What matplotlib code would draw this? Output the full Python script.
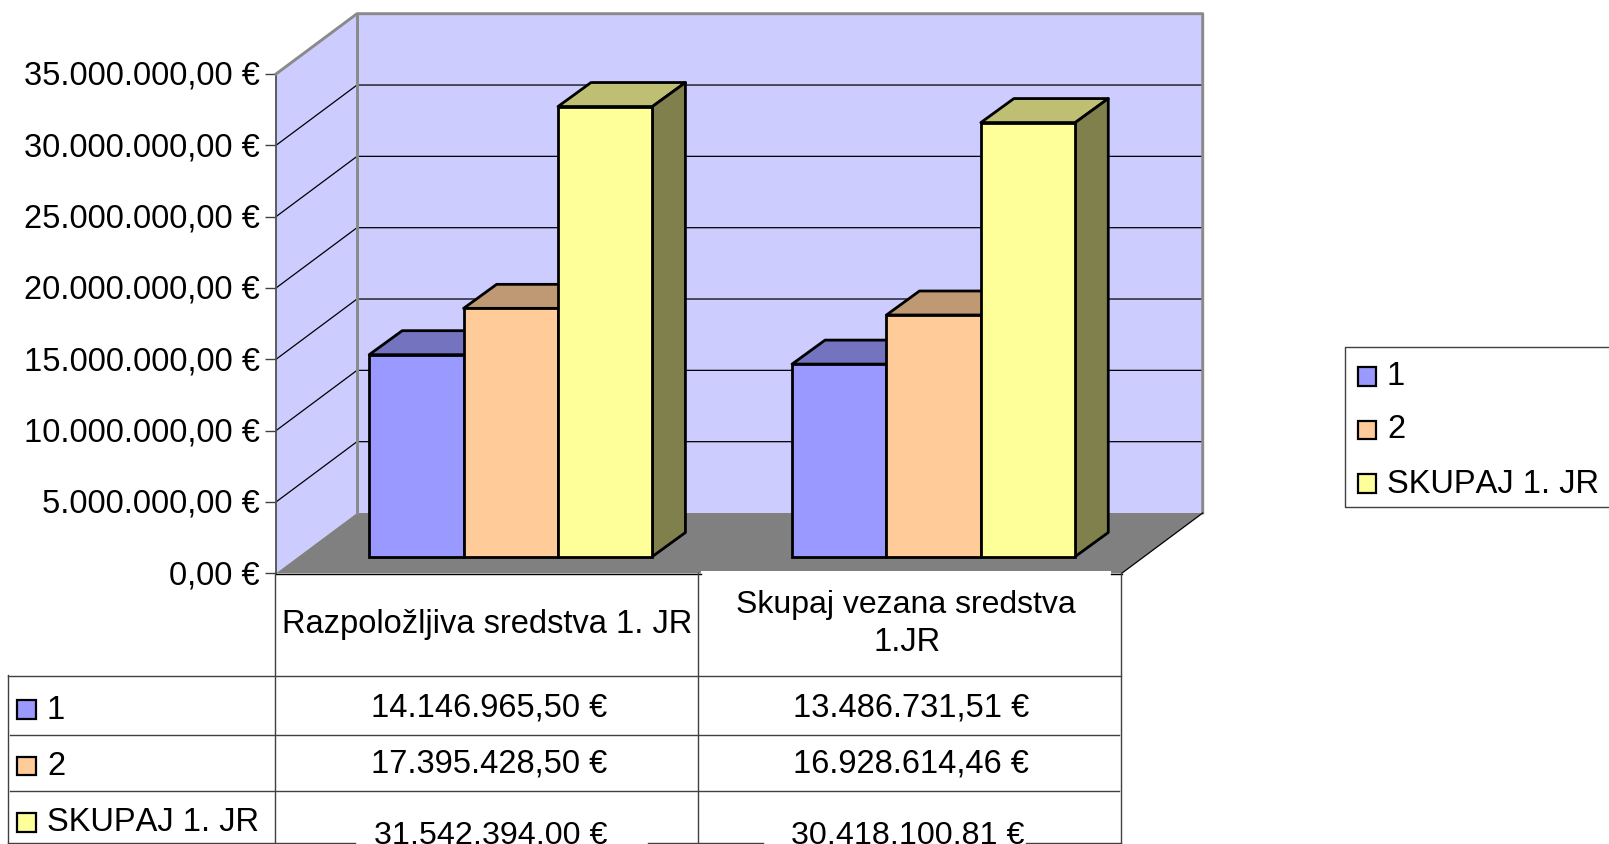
import matplotlib
matplotlib.use('Agg')
import matplotlib.pyplot as plt
from matplotlib.patches import Polygon, Rectangle
from matplotlib.transforms import ScaledTranslation

# Data
categories = ['Razpoložljiva sredstva 1. JR', 'Skupaj vezana sredstva\n1.JR']
series_names = ['1', '2', 'SKUPAJ 1. JR']
series_1 = [14146965.50, 13486731.51]
series_2 = [17395428.50, 16928614.46]
series_3 = [31542394.00, 30418100.81]
tick_values = [0, 5000000, 10000000, 15000000, 20000000, 25000000, 30000000, 35000000]

front_colors = ['#9999FF', '#FFCC99', '#FFFF99']
top_colors = ['#7373BF', '#BF9973', '#BFBF73']
side_colors = ['#4D4D80', '#80664D', '#80804D']


def euro(v):
    s = f'{v:,.2f}'.replace(',', 'X').replace('.', ',').replace('X', '.')
    return s + ' €'


plt.rcParams['font.family'] = ['Liberation Sans', 'DejaVu Sans']
plt.rcParams['text.kerning_factor'] = 6
W, H = 1609, 845
fs = 23.5
fig = plt.figure(figsize=(W / 100, H / 100), dpi=100)

# front plane of the fake 3D box
ax = fig.add_axes([276 / W, 1 - 574.3 / H, (1121.7 - 276) / W, (574.3 - 75) / H])
ax.set_xlim(0, 2)
ax.set_ylim(0, 35000000)
ax.patch.set_visible(False)
for s in ['top', 'right', 'bottom']:
    ax.spines[s].set_visible(False)
ax.spines['left'].set_color('#505050')
ax.spines['left'].set_linewidth(1.3)
ax.set_xticks([])
ax.set_yticks(tick_values)
ax.set_yticklabels([euro(v) for v in tick_values], fontsize=fs)
ax.tick_params(axis='y', length=7.9, width=1, pad=3.6, color='#404040')
# labels sit a little higher than the ticks
for t in ax.yaxis.get_major_ticks():
    t.label1.set_transform(t.label1.get_transform() + ScaledTranslation(0, 2 / 100, fig.dpi_scale_trans))

# depth of the box, in data units
px_x = 2 / (1121.7 - 276)
px_y = 35000000 / (574.3 - 75)
box_dx = 81 * px_x
box_dy = 60.3 * px_y
top = tick_values[-1]

# walls and floor
ax.add_patch(Polygon([(box_dx, box_dy), (2 + box_dx, box_dy), (2 + box_dx, top + box_dy), (box_dx, top + box_dy)],
                     fc='#CCCCFF', ec='none', clip_on=False, zorder=1))
ax.add_patch(Polygon([(0, 0), (box_dx, box_dy), (box_dx, top + box_dy), (0, top)],
                     fc='#CCCCFF', ec='none', clip_on=False, zorder=1))
ax.add_patch(Polygon([(0, 0), (2, 0), (2 + box_dx, box_dy), (box_dx, box_dy)],
                     fc='#808080', ec='none', clip_on=False, zorder=1))

# gridlines on the walls
for v in tick_values[1:-1]:
    ax.plot([0, box_dx, 2 + box_dx], [v, v + box_dy, v + box_dy], color='black', lw=0.9, clip_on=False, zorder=2)
ax.plot([0, box_dx, 2 + box_dx, 2 + box_dx], [top, top + box_dy, top + box_dy, box_dy],
        color='#8A8A8A', lw=2.1, clip_on=False, zorder=3)
ax.plot([box_dx, box_dx], [box_dy, top + box_dy], color='#8A8A8A', lw=2.1, clip_on=False, zorder=3)
ax.plot([2, 2 + box_dx], [0, box_dy], color='black', lw=0.9, clip_on=False, zorder=3)

# bars: front face with ax.bar, top and side faces as polygons
bar_w = 94.4 * px_x
lift_x = 23.4 * px_x
lift_y = 16.8 * px_y
bar_dx = 33 * px_x
bar_dy = 24 * px_y
z = 4
for i, vals in enumerate([series_1, series_2, series_3]):
    for c, v in enumerate(vals):
        x0 = c + 0.5 + lift_x + (i - 1.5) * bar_w
        x1 = x0 + bar_w
        y1 = lift_y + v
        ax.add_patch(Polygon([(x0, y1), (x1, y1), (x1 + bar_dx, y1 + bar_dy), (x0 + bar_dx, y1 + bar_dy)],
                             fc=top_colors[i], ec='black', lw=2, joinstyle='round', clip_on=False, zorder=z))
        ax.add_patch(Polygon([(x1, lift_y), (x1 + bar_dx, lift_y + bar_dy), (x1 + bar_dx, y1 + bar_dy), (x1, y1)],
                             fc=side_colors[i], ec='black', lw=2, joinstyle='round', clip_on=False, zorder=z))
        ax.bar(x0, v, bar_w, bottom=lift_y, align='edge', color=front_colors[i], edgecolor='black',
               linewidth=2, clip_on=False, zorder=z + 0.5)
    z += 1

# overlay in pixels for data table and legend
ov = fig.add_axes([0, 0, 1, 1])
ov.set_xlim(0, W)
ov.set_ylim(H, 0)
ov.axis('off')
ov.patch.set_visible(False)

line_c = '#404040'
ov.add_patch(Rectangle((701, 571.7), 410, 6, fc='white', ec='none'))
ov.plot([276, 701], [574.6, 574.6], color='black', lw=1)
ov.plot([1111, 1122], [574.6, 574.6], color='black', lw=1)
ov.plot([275.5, 275.5], [574, 844], color=line_c, lw=1)
ov.plot([698.5, 698.5], [574, 844], color=line_c, lw=1)
ov.plot([1121.5, 1121.5], [574, 844], color=line_c, lw=1)
ov.plot([8, 8], [676, 844], color=line_c, lw=1)
ov.plot([8, 1121.5], [676.5, 676.5], color=line_c, lw=1)
ov.plot([10, 1119], [735.5, 735.5], color=line_c, lw=1)
ov.plot([10, 1119], [791.5, 791.5], color=line_c, lw=1)
for a, b in [(8, 355), (648, 763), (1026, 1121.5)]:
    ov.plot([a, b], [844, 844], color=line_c, lw=1)

col_x = [489.5, 911]
ov.text(487.5, 632.7, categories[0], fontsize=fs, ha='center', va='baseline')
head = categories[1].split('\n')
ov.text(906, 613, head[0], fontsize=23, ha='center', va='baseline')
ov.text(907, 650.7, head[1], fontsize=fs, ha='center', va='baseline')

row_base = [716.7, 772.7, 844.5]
swatch_top = [701, 757.7, 814]
name_base = [719, 775, 831]
for i, vals in enumerate([series_1, series_2, series_3]):
    ov.add_patch(Rectangle((17.5, swatch_top[i]), 19, 18.5, fc=front_colors[i], ec='black', lw=1.6))
    ov.text(47, name_base[i], series_names[i], fontsize=fs, va='baseline')
    for c, v in enumerate(vals):
        if i < 2:
            ov.text(col_x[c], row_base[i], euro(v), fontsize=fs, ha='center', va='baseline')
# last row is offset in the original, and a bit narrower
ov.text(490.5, row_base[2], euro(series_3[0]), fontsize=23.2, ha='center', va='baseline')
ov.text(907.5, row_base[2], euro(series_3[1]), fontsize=23.2, ha='center', va='baseline')

# legend, its right edge runs off the picture
ov.plot([W + 5, 1345.3, 1345.3, W + 5], [348, 348, 507.7, 507.7], color='#404040', lw=1, clip_on=False)
leg_top = [368, 421.7, 475]
leg_base = [385, 438, 493]
for i, name in enumerate(series_names):
    ov.add_patch(Rectangle((1358, leg_top[i]), 18.5, 18.5, fc=front_colors[i], ec='black', lw=1.6))
    ov.text(1387, leg_base[i], name, fontsize=fs, va='baseline')

fig.savefig('out.png', dpi=100)
